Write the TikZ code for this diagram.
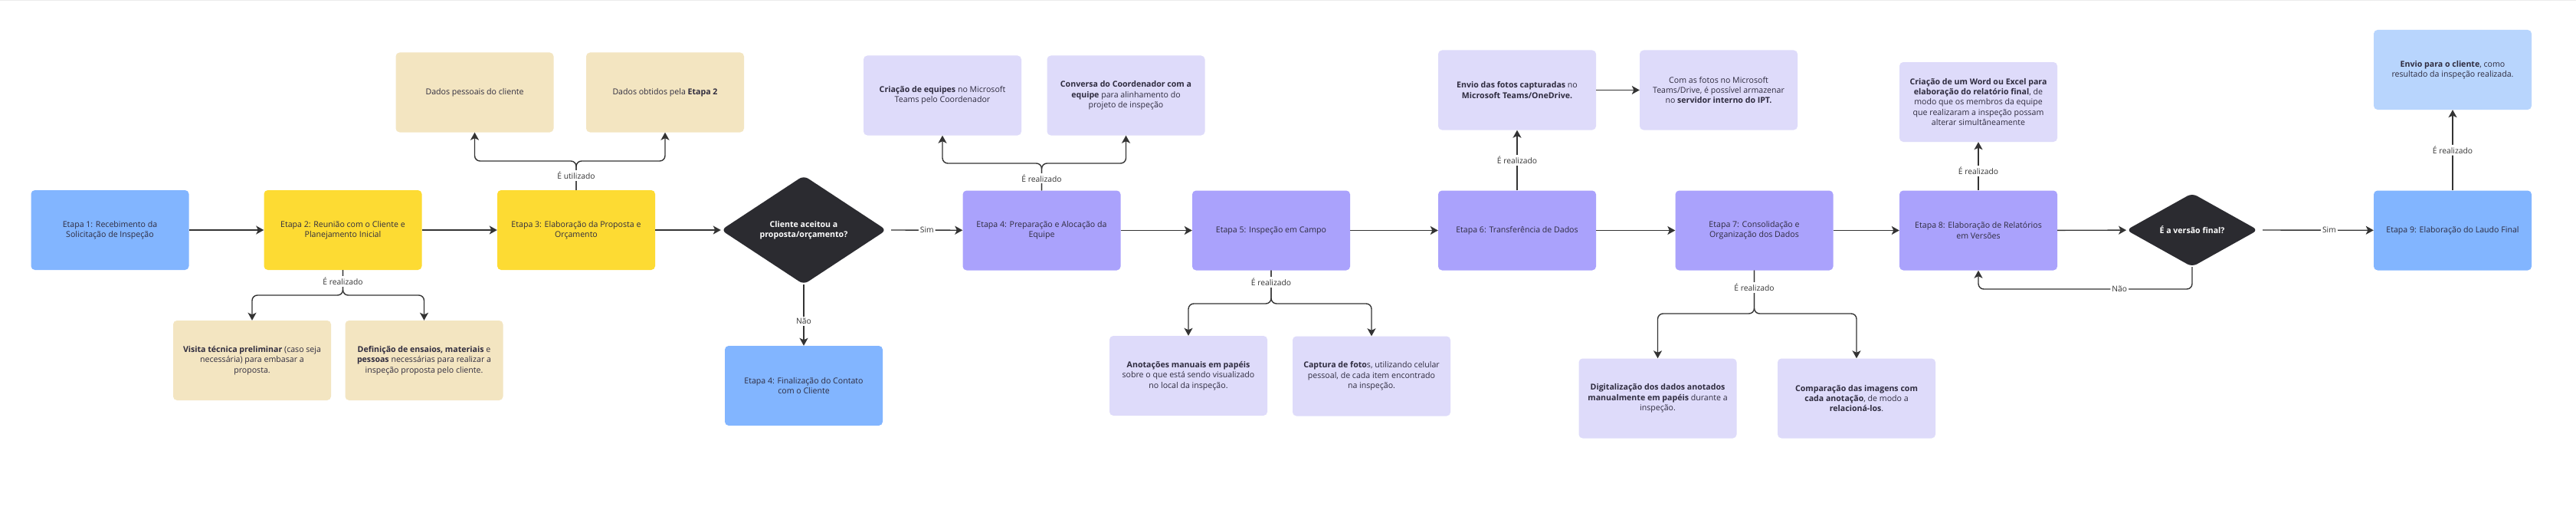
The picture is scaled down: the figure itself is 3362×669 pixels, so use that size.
\documentclass[tikz,border=0pt]{standalone}
\usepackage{fontspec}
\setmainfont{Open Sans}
\usetikzlibrary{arrows.meta,shapes.geometric}
\definecolor{cblue}{HTML}{82B5FF}
\definecolor{cyellow}{HTML}{FDDB33}
\definecolor{cbeige}{HTML}{F3E5C1}
\definecolor{cpurple}{HTML}{AAA2FC}
\definecolor{clav}{HTML}{DEDBFA}
\definecolor{clblue}{HTML}{B8D5FD}
\definecolor{cdark}{HTML}{2B2B30}
\definecolor{cline}{HTML}{333333}
\definecolor{ctxt}{HTML}{2E2B3E}
\begin{document}
\begin{tikzpicture}[x=1pt,y=-1pt,
  box/.style={rectangle, rounded corners=5pt, minimum width=206pt, minimum height=104pt,
    inner sep=1pt, align=center, text=ctxt, font=\fontsize{10.6}{13.3}\selectfont},
  bluebox/.style={box, fill=cblue},
  yelbox/.style={box, fill=cyellow},
  beigebox/.style={box, fill=cbeige},
  purbox/.style={box, fill=cpurple},
  lavbox/.style={box, fill=clav},
  lbluebox/.style={box, fill=clblue},
  dia/.style={diamond, fill=cdark, text=white, align=center, inner sep=0pt,
    rounded corners=7pt, font=\bfseries\fontsize{10.6}{13.3}\selectfont},
  conn/.style={draw=cline, line width=1.4pt, rounded corners=7pt,
    -{Stealth[length=10pt,width=11pt,inset=2.5pt]}},
  lbl/.style={fill=white, inner sep=2pt, text=cline, font=\fontsize{10.3}{12}\selectfont}
]
\useasboundingbox[fill=white] (0,0) rectangle (3362,669);
\draw[draw=black!8, line width=1.5pt] (0,0.75) -- (3362,0.75);

% main row
\node[bluebox] (e1) at (143.5,300) {Etapa 1: Recebimento da\\Solicitação de Inspeção};
\node[yelbox] (e2) at (447.5,300) {Etapa 2: Reunião com o Cliente e\\Planejamento Inicial};
\node[yelbox] (e3) at (752,300) {Etapa 3: Elaboração da Proposta e\\Orçamento};
\node[dia, minimum width=216pt, minimum height=142pt] (d1) at (1049,300) {Cliente aceitou a\\proposta/orçamento?};
\node[bluebox] (e4f) at (1049,503) {Etapa 4: Finalização do Contato\\com o Cliente};
\node[purbox] (e4) at (1359.5,300.5) {Etapa 4: Preparação e Alocação da\\Equipe};
\node[purbox] (e5) at (1659,300.5) {Etapa 5: Inspeção em Campo};
\node[purbox] (e6) at (1980,300.5) {Etapa 6: Transferência de Dados};
\node[purbox] (e7) at (2289.5,300.5) {Etapa 7: Consolidação e\\Organização dos Dados};
\node[purbox] (e8) at (2582,300.5) {Etapa 8: Elaboração de Relatórios\\em Versões};
\node[dia, minimum width=172pt, minimum height=96pt] (d2) at (2861,300) {É a versão final?};
\node[bluebox] (e9) at (3201,300.5) {Etapa 9: Elaboração do Laudo Final};

% side boxes
\node[beigebox] (dp) at (619.5,120.5) {Dados pessoais do cliente};
\node[beigebox] (dob) at (868,120.5) {Dados obtidos pela \textbf{Etapa 2}};
\node[beigebox] (vt) at (329,470) {\textbf{Visita técnica preliminar} (caso seja\\necessária) para embasar a\\proposta.};
\node[beigebox] (df) at (553.5,470) {\textbf{Definição de ensaios, materiais} e\\\textbf{pessoas} necessárias para realizar a\\inspeção proposta pelo cliente.};
\node[lavbox] (ce) at (1230,124.5) {\textbf{Criação de equipes} no Microsoft\\Teams pelo Coordenador};
\node[lavbox] (cv) at (1469.5,124.5) {\textbf{Conversa do Coordenador com a}\\\textbf{equipe} para alinhamento do\\projeto de inspeção};
\node[lavbox] (an) at (1551,490) {\textbf{Anotações manuais em papéis}\\sobre o que está sendo visualizado\\no local da inspeção.};
\node[lavbox] (cf) at (1790,490.5) {\textbf{Captura de foto}s, utilizando celular\\pessoal, de cada item encontrado\\na inspeção.};
\node[lavbox] (ef) at (1980,117.5) {\textbf{Envio das fotos capturadas} no\\\textbf{Microsoft Teams/OneDrive.}};
\node[lavbox] (cf2) at (2243,117.5) {Com as fotos no Microsoft\\Teams/Drive, é possível armazenar\\no \textbf{servidor interno do IPT.}};
\node[lavbox] (dg) at (2163.5,519.5) {\textbf{Digitalização dos dados anotados}\\\textbf{manualmente em papéis} durante a\\inspeção.};
\node[lavbox] (cp) at (2423,519.5) {\textbf{Comparação das imagens com}\\\textbf{cada anotação}, de modo a\\\textbf{relacioná-los}.};
\node[lavbox] (cw) at (2582,133) {\textbf{Criação de um Word ou Excel para}\\\textbf{elaboração do relatório final}, de\\modo que os membros da equipe\\que realizaram a inspeção possam\\alterar simultâneamente};
\node[lbluebox] (ec) at (3201,91) {\textbf{Envio para o cliente}, como\\resultado da inspeção realizada.};

% fork points
\coordinate (f3) at (752,210);
\coordinate (f2) at (447.5,385);
\coordinate (f4) at (1359.5,213);
\coordinate (f5) at (1659,396);
\coordinate (f7) at (2289.5,409);
\coordinate (nl) at (2582,377);

% main flow
\draw[conn] (e1) -- (e2);
\draw[conn] (e2) -- (e3);
\draw[conn] (e3) -- (d1);
\draw[conn] (d1.east) ++(6,0) coordinate (d1e) (d1e) -- node[lbl]{Sim} (e4);
\draw[conn] (d1) -- node[lbl, pos=0.6]{Não} (e4f);
\draw[conn] (e4) -- (e5);
\draw[conn] (e5) -- (e6);
\draw[conn] (e6) -- (e7);
\draw[conn] (e7) -- (e8);
\draw[conn] (e8) -- (d2);
\draw[conn] (d2.east) ++(6,0) coordinate (d2e) (d2e) -- node[lbl, pos=0.6]{Sim} (e9);
\draw[conn] (d2.south) |- node[lbl, pos=0.67]{Não} (nl) -- (e8.south);

% forks
\draw[conn] (e3.north) -- (f3) -| (dp.south);
\draw[conn] (e3.north) -- (f3) -| (dob.south);
\path (e3.north) -- node[lbl]{É utilizado} (f3);

\draw[conn] (e2.south) -- (f2) -| (vt.north);
\draw[conn] (e2.south) -- (f2) -| (df.north);
\path (e2.south) -- node[lbl, pos=0.45]{É realizado} (f2);

\draw[conn] (e4.north) -- (f4) -| (ce.south);
\draw[conn] (e4.north) -- (f4) -| (cv.south);
\path (e4.north) -- node[lbl, pos=0.45]{É realizado} (f4);

\draw[conn] (e5.south) -- (f5) -| (an.north);
\draw[conn] (e5.south) -- (f5) -| (cf.north);
\path (e5.south) -- node[lbl, pos=0.35]{É realizado} (f5);

\draw[conn] (e7.south) -- (f7) -| (dg.north);
\draw[conn] (e7.south) -- (f7) -| (cp.north);
\path (e7.south) -- node[lbl, pos=0.4]{É realizado} (f7);

\draw[conn] (e6) -- node[lbl]{É realizado} (ef);
\draw[conn] (ef) -- (cf2);
\draw[conn] (e8) -- node[lbl, pos=0.4]{É realizado} (cw);
\draw[conn] (e9) -- node[lbl, pos=0.5]{É realizado} (ec);
\end{tikzpicture}
\end{document}
